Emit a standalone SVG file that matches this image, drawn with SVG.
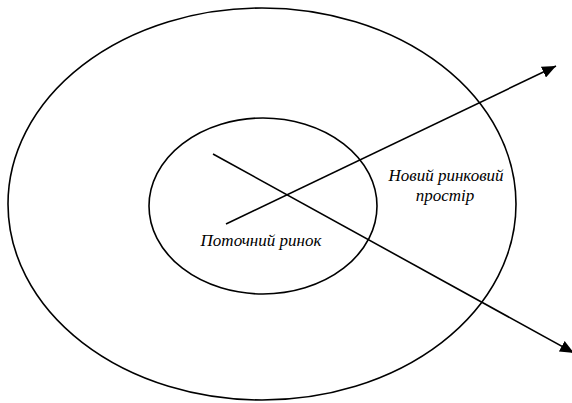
<svg xmlns="http://www.w3.org/2000/svg" width="572" height="403" viewBox="0 0 572 403">
<style>
.ring{fill:none;stroke:#000;stroke-width:1.6}
.conn{fill:none;stroke:#000;stroke-width:1.6}
.lbl{font-family:"Liberation Serif","DejaVu Serif",serif;font-style:italic;font-size:17px;fill:#000;text-anchor:middle}
</style>
<defs>
<marker id="ah" viewBox="0 0 14 12" refX="14" refY="6" markerWidth="14" markerHeight="12" markerUnits="userSpaceOnUse" orient="auto">
<path d="M0,0 L14,6 L0,12 Z" fill="#000"/>
</marker>
</defs>
<rect width="572" height="403" fill="#fff"/>
<g id="outer">
<ellipse class="ring" cx="262" cy="204" rx="254" ry="196"/>
<text class="lbl" x="446" y="181">Новий ринковий</text>
<text class="lbl" x="445" y="201">простір</text>
</g>
<g id="inner">
<ellipse class="ring" cx="263" cy="206" rx="114" ry="88"/>
<text class="lbl" x="261" y="246">Поточний ринок</text>
</g>
<g id="connectors">
<line class="conn" x1="226" y1="224" x2="556" y2="66" marker-end="url(#ah)"/>
<line class="conn" x1="213" y1="154" x2="574" y2="353" marker-end="url(#ah)"/>
</g>
</svg>
